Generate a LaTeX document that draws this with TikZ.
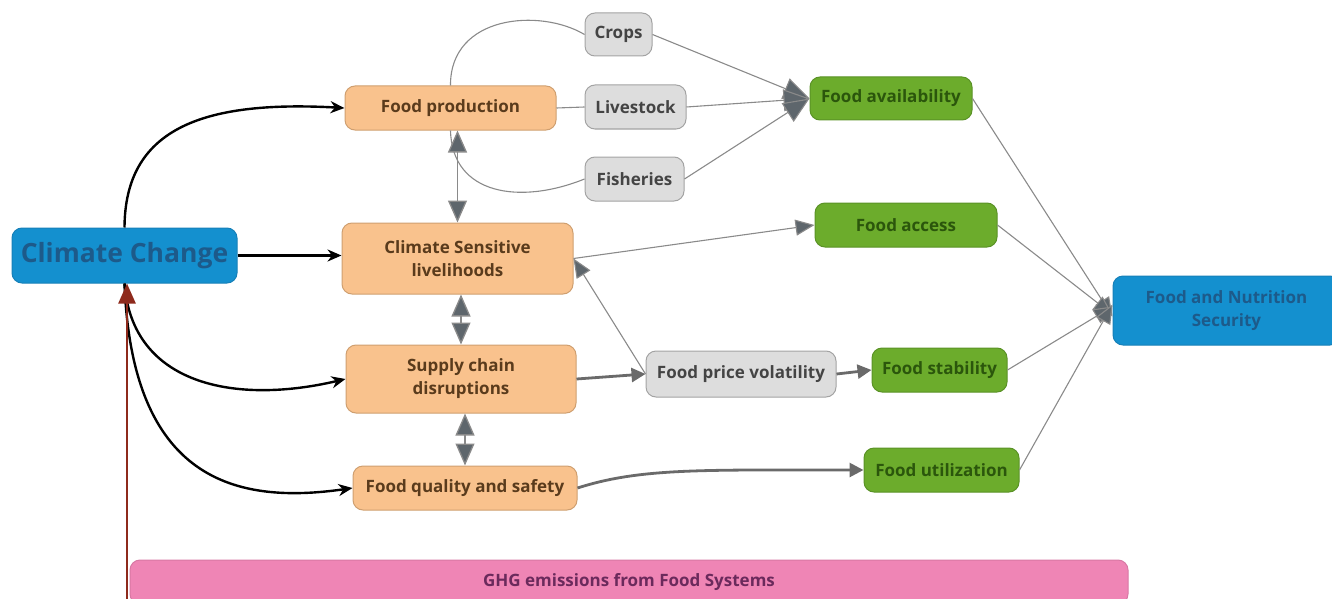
\documentclass[tikz,border=0pt]{standalone}
\usepackage{fontspec}
\setmainfont{Open Sans}
\usetikzlibrary{arrows.meta}
\definecolor{ccblue}{HTML}{1490CF}
\definecolor{ccbluetxt}{HTML}{1D5A8A}
\definecolor{cborder}{HTML}{1780B8}
\definecolor{orfill}{HTML}{F9C28D}
\definecolor{orborder}{HTML}{CF9F70}
\definecolor{ortxt}{HTML}{5A3B1C}
\definecolor{grfill}{HTML}{DDDDDD}
\definecolor{grborder}{HTML}{A3A3A3}
\definecolor{grtxt}{HTML}{444444}
\definecolor{gnfill}{HTML}{6CAC2C}
\definecolor{gnborder}{HTML}{5A9226}
\definecolor{gntxt}{HTML}{2B560C}
\definecolor{pkfill}{HTML}{EF85B5}
\definecolor{pkborder}{HTML}{D878A4}
\definecolor{pktxt}{HTML}{6B2A5C}
\definecolor{ghgred}{HTML}{8E2A1C}
\definecolor{linegray}{HTML}{8A8A8A}
\definecolor{thickgray}{HTML}{6A6A6A}
\definecolor{headgray}{HTML}{5E666C}
\tikzset{
  box/.style={rounded corners=10pt, inner sep=0pt, align=center, font=\bfseries\fontsize{17}{23}\selectfont, line width=1pt},
  orbox/.style={box, fill=orfill, draw=orborder, text=ortxt},
  grbox/.style={box, fill=grfill, draw=grborder, text=grtxt},
  gnbox/.style={box, fill=gnfill, draw=gnborder, text=gntxt},
  bluebox/.style={box, fill=ccblue, draw=cborder, text=ccbluetxt},
  blackarr/.style={line width=2.4pt, black, -{Stealth[length=14pt,width=12pt]}},
  thinarr/.style={line width=1.1pt, linegray, -{Triangle[length=26pt,width=22pt,fill=headgray]}},
  fnsarr/.style={line width=1.1pt, linegray, -{Triangle[length=19pt,width=16pt,fill=headgray]}},
  thinline/.style={line width=1.1pt, linegray},
  thickarr/.style={line width=2.8pt, thickgray, -{Triangle[length=14pt,width=14pt]}},
  dblarr/.style={line width=1.3pt, linegray, {Triangle[length=22pt,width=19pt,fill=headgray]}-{Triangle[length=22pt,width=19pt,fill=headgray]}},
}
\begin{document}
\begin{tikzpicture}[x=1pt,y=-1pt]
\useasboundingbox (0,0) rectangle (1332,599);
\begin{scope}
\clip (0,0) rectangle (1332,599);
% nodes
\node[bluebox, minimum width=225pt, minimum height=55pt, font=\bfseries\fontsize{26.5}{30}\selectfont] (cc) at (124.5,255.5) {Climate Change};
\node[orbox, minimum width=211pt, minimum height=44pt] (fp) at (450.5,108) {Food production};
\node[grbox, minimum width=67pt, minimum height=43pt] (crops) at (618.5,34.5) {Crops};
\node[grbox, minimum width=101pt, minimum height=44pt] (live) at (635.5,107) {Livestock};
\node[grbox, minimum width=99pt, minimum height=44pt] (fish) at (634.5,179) {Fisheries};
\node[gnbox, minimum width=162pt, minimum height=43pt] (favail) at (891,98.5) {Food availability};
\node[orbox, minimum width=231pt, minimum height=71pt] (csl) at (457.5,258.5) {Climate Sensitive\\livelihoods};
\node[gnbox, minimum width=182pt, minimum height=44pt] (faccess) at (906,225) {Food access};
\node[bluebox, minimum width=227pt, minimum height=69pt] (fns) at (1226.5,310.5) {Food and Nutrition\\Security};
\node[orbox, minimum width=230pt, minimum height=68pt] (scd) at (461,379) {Supply chain\\disruptions};
\node[grbox, minimum width=190pt, minimum height=46pt] (fpv) at (741,374) {Food price volatility};
\node[gnbox, minimum width=135pt, minimum height=44pt] (fstab) at (939.5,370) {Food stability};
\node[orbox, minimum width=224pt, minimum height=44pt] (fqs) at (465,488) {Food quality and safety};
\node[gnbox, minimum width=155pt, minimum height=44pt] (futil) at (941.5,470) {Food utilization};
\node[box, fill=pkfill, draw=pkborder, text=pktxt, minimum width=998pt, minimum height=44pt, text depth=4pt] (ghg) at (629,582) {GHG emissions from Food Systems};
\end{scope}
% climate change connectors
\draw[blackarr] (cc.north) .. controls (125,130) and (200,100) .. (fp.west);
\draw[blackarr] (cc.east) -- (cc.east -| csl.west);
\draw[blackarr] (cc.south) .. controls (132,385) and (235,405) .. (scd.west);
\draw[blackarr] (cc.south) .. controls (132,480) and (235,505) .. (fqs.west);
\coordinate (g) at (127,599);
\draw[line width=2.4pt, ghgred, -{Triangle[length=20pt,width=17pt]}] (g) -- (g |- cc.south);
% production branches
\draw[thinline] (fp.north) .. controls (450,15) and (540,8) .. (crops.west);
\draw[thinline] (fp.east) -- (live.west);
\draw[thinline] (fish.west) .. controls (520,205) and (452,195) .. (fp.south);
\draw[thinarr] (crops.east) -- (favail.west);
\draw[thinarr] (live.east) -- (favail.west);
\draw[thinarr] (fish.east) -- (favail.west);
% vertical double arrows
\draw[dblarr] (csl.north |- fp.south) -- (csl.north);
\draw[dblarr] (scd.north |- csl.south) -- (scd.north);
\draw[dblarr] (fqs.north |- scd.south) -- (fqs.north);
% middle connectors
\draw[fnsarr] (csl.east) -- (faccess.west);
\draw[fnsarr] (fpv.west) -- (csl.east);
\draw[thickarr] (scd.east) -- (fpv.west);
\draw[thickarr] (fpv.east) -- (fstab.west);
\draw[thickarr] (fqs.east) .. controls (640,468) and (700,470) .. (futil.west);
% to food and nutrition security
\draw[fnsarr] (favail.east) -- ([yshift=-6pt]fns.west);
\draw[fnsarr] (faccess.east) -- ([yshift=-4pt]fns.west);
\draw[fnsarr] (fstab.east) -- ([yshift=4pt]fns.west);
\draw[fnsarr] (futil.east) -- ([yshift=6pt]fns.west);
\end{tikzpicture}
\end{document}
